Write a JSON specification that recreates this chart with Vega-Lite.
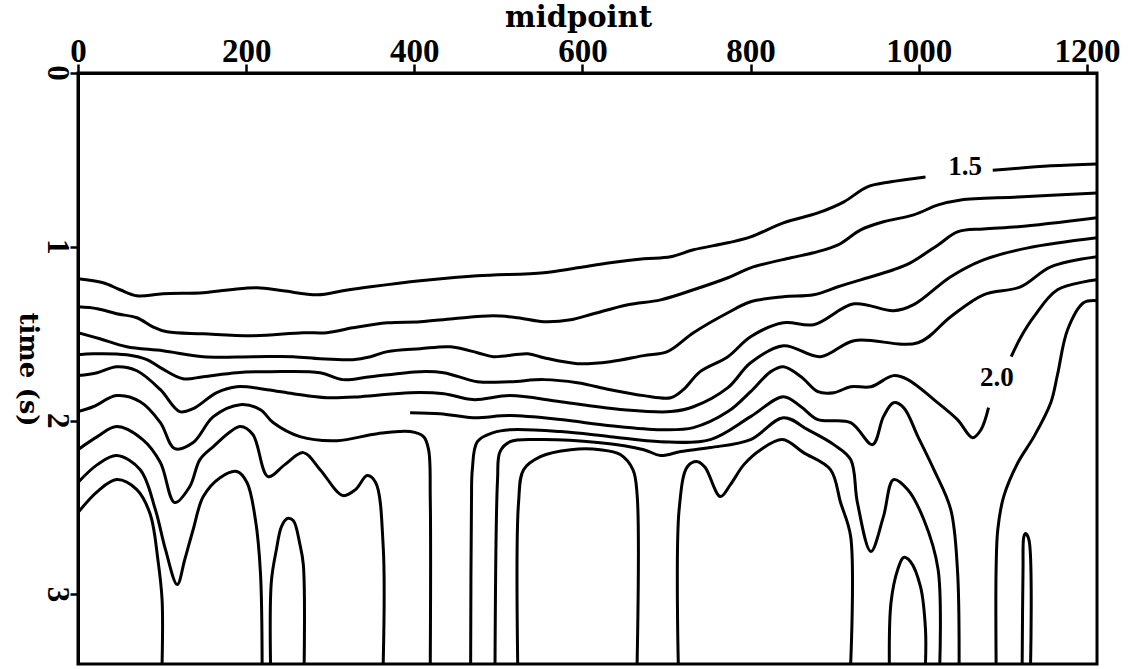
{
"$schema": "https://vega.github.io/schema/vega-lite/v6.json",
"width": 1019, "height": 591,
"autosize": {"type": "none"},
"padding": {"left": 78, "top": 73, "right": 31, "bottom": 5},
"background": "white",
"config": {"view": {"stroke": "black", "strokeWidth": 3}, "axis": {"grid": false, "domainColor": "black", "domainWidth": 3, "tickColor": "black", "tickWidth": 2.5, "labelColor": "black", "titleColor": "black"}},
"datasets": {
"labels": [{"label": "1.5", "m": 1055, "t": 0.54}, {"label": "2.0", "m": 1093, "t": 1.753}],
"ylabels": [{"lab": "0", "t": 0}, {"lab": "1", "t": 1}, {"lab": "2", "t": 2}, {"lab": "3", "t": 3}],
"lines": [
{"s":"A1","i":0,"m":0,"t":1.184},{"s":"A1","i":1,"m":30,"t":1.207},{"s":"A1","i":2,"m":50,"t":1.247},{"s":"A1","i":3,"m":70,"t":1.282},{"s":"A1","i":4,"m":101,"t":1.27},{"s":"A1","i":5,"m":149,"t":1.264},{"s":"A1","i":6,"m":181,"t":1.247},{"s":"A1","i":7,"m":213,"t":1.236},{"s":"A1","i":8,"m":244,"t":1.253},{"s":"A1","i":9,"m":285,"t":1.276},{"s":"A1","i":10,"m":315,"t":1.253},{"s":"A1","i":11,"m":348,"t":1.23},{"s":"A1","i":12,"m":407,"t":1.195},{"s":"A1","i":13,"m":475,"t":1.167},{"s":"A1","i":14,"m":554,"t":1.149},{"s":"A1","i":15,"m":594,"t":1.121},{"s":"A1","i":16,"m":633,"t":1.092},{"s":"A1","i":17,"m":673,"t":1.069},{"s":"A1","i":18,"m":705,"t":1.057},{"s":"A1","i":19,"m":732,"t":1.017},{"s":"A1","i":20,"m":773,"t":0.977},{"s":"A1","i":21,"m":800,"t":0.943},{"s":"A1","i":22,"m":839,"t":0.862},{"s":"A1","i":23,"m":880,"t":0.805},{"s":"A1","i":24,"m":911,"t":0.741},{"s":"A1","i":25,"m":939,"t":0.655},{"s":"A1","i":26,"m":967,"t":0.626},{"s":"A1","i":27,"m":1008,"t":0.598},
{"s":"A2","i":0,"m":1088,"t":0.56},{"s":"A2","i":1,"m":1157,"t":0.534},{"s":"A2","i":2,"m":1212,"t":0.523},
{"s":"B","i":0,"m":0,"t":1.345},{"s":"B","i":1,"m":23,"t":1.356},{"s":"B","i":2,"m":46,"t":1.385},{"s":"B","i":3,"m":70,"t":1.408},{"s":"B","i":4,"m":89,"t":1.46},{"s":"B","i":5,"m":106,"t":1.489},{"s":"B","i":6,"m":149,"t":1.5},{"s":"B","i":7,"m":208,"t":1.511},{"s":"B","i":8,"m":268,"t":1.494},{"s":"B","i":9,"m":296,"t":1.494},{"s":"B","i":10,"m":327,"t":1.466},{"s":"B","i":11,"m":368,"t":1.437},{"s":"B","i":12,"m":407,"t":1.431},{"s":"B","i":13,"m":446,"t":1.414},{"s":"B","i":14,"m":494,"t":1.397},{"s":"B","i":15,"m":523,"t":1.408},{"s":"B","i":16,"m":554,"t":1.431},{"s":"B","i":17,"m":586,"t":1.42},{"s":"B","i":18,"m":613,"t":1.385},{"s":"B","i":19,"m":654,"t":1.333},{"s":"B","i":20,"m":693,"t":1.305},{"s":"B","i":21,"m":732,"t":1.247},{"s":"B","i":22,"m":773,"t":1.178},{"s":"B","i":23,"m":800,"t":1.121},{"s":"B","i":24,"m":848,"t":1.063},{"s":"B","i":25,"m":875,"t":1.034},{"s":"B","i":26,"m":904,"t":0.989},{"s":"B","i":27,"m":931,"t":0.902},{"s":"B","i":28,"m":958,"t":0.856},{"s":"B","i":29,"m":994,"t":0.816},{"s":"B","i":30,"m":1023,"t":0.759},{"s":"B","i":31,"m":1050,"t":0.73},{"s":"B","i":32,"m":1118,"t":0.713},{"s":"B","i":33,"m":1212,"t":0.69},
{"s":"C","i":0,"m":0,"t":1.494},{"s":"C","i":1,"m":26,"t":1.529},{"s":"C","i":2,"m":58,"t":1.575},{"s":"C","i":3,"m":101,"t":1.598},{"s":"C","i":4,"m":149,"t":1.632},{"s":"C","i":5,"m":208,"t":1.632},{"s":"C","i":6,"m":256,"t":1.632},{"s":"C","i":7,"m":288,"t":1.644},{"s":"C","i":8,"m":327,"t":1.649},{"s":"C","i":9,"m":348,"t":1.632},{"s":"C","i":10,"m":368,"t":1.603},{"s":"C","i":11,"m":407,"t":1.586},{"s":"C","i":12,"m":443,"t":1.575},{"s":"C","i":13,"m":475,"t":1.609},{"s":"C","i":14,"m":494,"t":1.632},{"s":"C","i":15,"m":535,"t":1.615},{"s":"C","i":16,"m":554,"t":1.638},{"s":"C","i":17,"m":594,"t":1.672},{"s":"C","i":18,"m":633,"t":1.661},{"s":"C","i":19,"m":673,"t":1.626},{"s":"C","i":20,"m":701,"t":1.603},{"s":"C","i":21,"m":732,"t":1.494},{"s":"C","i":22,"m":773,"t":1.379},{"s":"C","i":23,"m":800,"t":1.316},{"s":"C","i":24,"m":839,"t":1.287},{"s":"C","i":25,"m":875,"t":1.276},{"s":"C","i":26,"m":904,"t":1.23},{"s":"C","i":27,"m":931,"t":1.19},{"s":"C","i":28,"m":970,"t":1.132},{"s":"C","i":29,"m":990,"t":1.092},{"s":"C","i":30,"m":1023,"t":0.989},{"s":"C","i":31,"m":1046,"t":0.914},{"s":"C","i":32,"m":1077,"t":0.897},{"s":"C","i":33,"m":1118,"t":0.885},{"s":"C","i":34,"m":1212,"t":0.833},
{"s":"D","i":0,"m":0,"t":1.621},{"s":"D","i":1,"m":18,"t":1.615},{"s":"D","i":2,"m":58,"t":1.621},{"s":"D","i":3,"m":82,"t":1.649},{"s":"D","i":4,"m":98,"t":1.695},{"s":"D","i":5,"m":125,"t":1.759},{"s":"D","i":6,"m":149,"t":1.747},{"s":"D","i":7,"m":189,"t":1.724},{"s":"D","i":8,"m":229,"t":1.718},{"s":"D","i":9,"m":288,"t":1.724},{"s":"D","i":10,"m":315,"t":1.764},{"s":"D","i":11,"m":348,"t":1.747},{"s":"D","i":12,"m":407,"t":1.718},{"s":"D","i":13,"m":435,"t":1.724},{"s":"D","i":14,"m":475,"t":1.776},{"s":"D","i":15,"m":514,"t":1.776},{"s":"D","i":16,"m":554,"t":1.764},{"s":"D","i":17,"m":594,"t":1.782},{"s":"D","i":18,"m":633,"t":1.822},{"s":"D","i":19,"m":673,"t":1.856},{"s":"D","i":20,"m":705,"t":1.868},{"s":"D","i":21,"m":720,"t":1.822},{"s":"D","i":22,"m":740,"t":1.718},{"s":"D","i":23,"m":773,"t":1.632},{"s":"D","i":24,"m":800,"t":1.517},{"s":"D","i":25,"m":839,"t":1.437},{"s":"D","i":26,"m":875,"t":1.448},{"s":"D","i":27,"m":923,"t":1.328},{"s":"D","i":28,"m":970,"t":1.368},{"s":"D","i":29,"m":994,"t":1.333},{"s":"D","i":30,"m":1038,"t":1.172},{"s":"D","i":31,"m":1077,"t":1.075},{"s":"D","i":32,"m":1130,"t":1.006},{"s":"D","i":33,"m":1212,"t":0.948},
{"s":"E","i":0,"m":0,"t":1.741},{"s":"E","i":1,"m":23,"t":1.724},{"s":"E","i":2,"m":46,"t":1.69},{"s":"E","i":3,"m":70,"t":1.713},{"s":"E","i":4,"m":98,"t":1.822},{"s":"E","i":5,"m":121,"t":1.948},{"s":"E","i":6,"m":137,"t":1.931},{"s":"E","i":7,"m":165,"t":1.839},{"s":"E","i":8,"m":189,"t":1.805},{"s":"E","i":9,"m":225,"t":1.822},{"s":"E","i":10,"m":256,"t":1.845},{"s":"E","i":11,"m":296,"t":1.868},{"s":"E","i":12,"m":336,"t":1.862},{"s":"E","i":13,"m":395,"t":1.839},{"s":"E","i":14,"m":435,"t":1.845},{"s":"E","i":15,"m":470,"t":1.879},{"s":"E","i":16,"m":514,"t":1.856},{"s":"E","i":17,"m":574,"t":1.891},{"s":"E","i":18,"m":649,"t":1.937},{"s":"E","i":19,"m":705,"t":1.948},{"s":"E","i":20,"m":732,"t":1.92},{"s":"E","i":21,"m":773,"t":1.81},{"s":"E","i":22,"m":800,"t":1.667},{"s":"E","i":23,"m":839,"t":1.569},{"s":"E","i":24,"m":883,"t":1.632},{"s":"E","i":25,"m":923,"t":1.54},{"s":"E","i":26,"m":999,"t":1.552},{"s":"E","i":27,"m":1038,"t":1.402},{"s":"E","i":28,"m":1077,"t":1.276},{"s":"E","i":29,"m":1121,"t":1.23},{"s":"E","i":30,"m":1157,"t":1.115},{"s":"E","i":31,"m":1212,"t":1.057},
{"s":"F","i":0,"m":0,"t":1.948},{"s":"F","i":1,"m":18,"t":1.92},{"s":"F","i":2,"m":46,"t":1.856},{"s":"F","i":3,"m":74,"t":1.891},{"s":"F","i":4,"m":98,"t":2.011},{"s":"F","i":5,"m":115,"t":2.161},{"s":"F","i":6,"m":137,"t":2.126},{"s":"F","i":7,"m":161,"t":1.977},{"s":"F","i":8,"m":193,"t":1.908},{"s":"F","i":9,"m":217,"t":1.937},{"s":"F","i":10,"m":232,"t":2.011},{"s":"F","i":11,"m":264,"t":2.092},{"s":"F","i":12,"m":308,"t":2.115},{"s":"F","i":13,"m":356,"t":2.075},{"s":"F","i":14,"m":395,"t":2.063},{"s":"F","i":15,"m":411,"t":2.092},{"s":"F","i":16,"m":417,"t":2.167},{"s":"F","i":17,"m":419,"t":2.454},{"s":"F","i":18,"m":419,"t":3.4},
{"s":"X1","i":0,"m":1212,"t":1.19},{"s":"X1","i":1,"m":1165,"t":1.247},{"s":"X1","i":2,"m":1137,"t":1.402},{"s":"X1","i":3,"m":1121,"t":1.523},{"s":"X1","i":4,"m":1110,"t":1.632},
{"s":"X2","i":0,"m":1083,"t":1.925},{"s":"X2","i":1,"m":1074,"t":2.052},{"s":"X2","i":2,"m":1064,"t":2.098},{"s":"X2","i":3,"m":1046,"t":1.994},{"s":"X2","i":4,"m":1018,"t":1.879},{"s":"X2","i":5,"m":987,"t":1.764},{"s":"X2","i":6,"m":970,"t":1.741},{"s":"X2","i":7,"m":943,"t":1.805},{"s":"X2","i":8,"m":919,"t":1.805},{"s":"X2","i":9,"m":899,"t":1.839},{"s":"X2","i":10,"m":880,"t":1.833},{"s":"X2","i":11,"m":860,"t":1.747},{"s":"X2","i":12,"m":839,"t":1.69},{"s":"X2","i":13,"m":824,"t":1.718},{"s":"X2","i":14,"m":800,"t":1.833},{"s":"X2","i":15,"m":773,"t":1.948},{"s":"X2","i":16,"m":732,"t":2.04},{"s":"X2","i":17,"m":693,"t":2.052},{"s":"X2","i":18,"m":633,"t":2.029},{"s":"X2","i":19,"m":574,"t":1.994},{"s":"X2","i":20,"m":514,"t":1.971},{"s":"X2","i":21,"m":470,"t":1.983},{"s":"X2","i":22,"m":431,"t":1.96},{"s":"X2","i":23,"m":395,"t":1.954},
{"s":"V470","i":0,"m":467,"t":3.4},{"s":"V470","i":1,"m":468,"t":2.471},{"s":"V470","i":2,"m":469,"t":2.282},{"s":"V470","i":3,"m":475,"t":2.121},{"s":"V470","i":4,"m":494,"t":2.069},{"s":"V470","i":5,"m":514,"t":2.052},{"s":"V470","i":6,"m":574,"t":2.063},{"s":"V470","i":7,"m":633,"t":2.092},{"s":"V470","i":8,"m":693,"t":2.121},{"s":"V470","i":9,"m":752,"t":2.109},{"s":"V470","i":10,"m":800,"t":1.977},{"s":"V470","i":11,"m":839,"t":1.862},{"s":"V470","i":12,"m":860,"t":1.92},{"s":"V470","i":13,"m":880,"t":1.994},{"s":"V470","i":14,"m":919,"t":2.011},{"s":"V470","i":15,"m":945,"t":2.138},{"s":"V470","i":16,"m":958,"t":1.977},{"s":"V470","i":17,"m":970,"t":1.897},{"s":"V470","i":18,"m":982,"t":1.925},{"s":"V470","i":19,"m":999,"t":2.092},{"s":"V470","i":20,"m":1018,"t":2.282},{"s":"V470","i":21,"m":1038,"t":2.511},{"s":"V470","i":22,"m":1046,"t":2.856},{"s":"V470","i":23,"m":1048,"t":3.4},
{"s":"V495","i":0,"m":496,"t":3.4},{"s":"V495","i":1,"m":499,"t":2.339},{"s":"V495","i":2,"m":502,"t":2.178},{"s":"V495","i":3,"m":514,"t":2.121},{"s":"V495","i":4,"m":550,"t":2.109},{"s":"V495","i":5,"m":618,"t":2.126},{"s":"V495","i":6,"m":673,"t":2.167},{"s":"V495","i":7,"m":693,"t":2.201},{"s":"V495","i":8,"m":717,"t":2.178},{"s":"V495","i":9,"m":752,"t":2.155},{"s":"V495","i":10,"m":800,"t":2.109},{"s":"V495","i":11,"m":839,"t":1.983},{"s":"V495","i":12,"m":868,"t":2.052},{"s":"V495","i":13,"m":899,"t":2.138},{"s":"V495","i":14,"m":919,"t":2.224},{"s":"V495","i":15,"m":927,"t":2.471},{"s":"V495","i":16,"m":943,"t":2.753},{"s":"V495","i":17,"m":958,"t":2.552},{"s":"V495","i":18,"m":970,"t":2.339},{"s":"V495","i":19,"m":987,"t":2.397},{"s":"V495","i":20,"m":1006,"t":2.569},{"s":"V495","i":21,"m":1023,"t":2.856},{"s":"V495","i":22,"m":1025,"t":3.4},
{"s":"AR1","i":0,"m":523,"t":3.4},{"s":"AR1","i":1,"m":524,"t":2.471},{"s":"AR1","i":2,"m":530,"t":2.282},{"s":"AR1","i":3,"m":550,"t":2.207},{"s":"AR1","i":4,"m":586,"t":2.167},{"s":"AR1","i":5,"m":621,"t":2.167},{"s":"AR1","i":6,"m":645,"t":2.195},{"s":"AR1","i":7,"m":660,"t":2.282},{"s":"AR1","i":8,"m":665,"t":2.425},{"s":"AR1","i":9,"m":665,"t":3.4},
{"s":"V678","i":0,"m":714,"t":3.4},{"s":"V678","i":1,"m":715,"t":2.511},{"s":"V678","i":2,"m":725,"t":2.264},{"s":"V678","i":3,"m":737,"t":2.236},{"s":"V678","i":4,"m":746,"t":2.27},{"s":"V678","i":5,"m":764,"t":2.437},{"s":"V678","i":6,"m":776,"t":2.368},{"s":"V678","i":7,"m":792,"t":2.253},{"s":"V678","i":8,"m":812,"t":2.167},{"s":"V678","i":9,"m":838,"t":2.109},{"s":"V678","i":10,"m":863,"t":2.184},{"s":"V678","i":11,"m":895,"t":2.282},{"s":"V678","i":12,"m":907,"t":2.471},{"s":"V678","i":13,"m":919,"t":2.667},{"s":"V678","i":14,"m":919,"t":3.4},
{"s":"L5","i":0,"m":965,"t":3.4},{"s":"L5","i":1,"m":967,"t":3.046},{"s":"L5","i":2,"m":975,"t":2.856},{"s":"L5","i":3,"m":982,"t":2.787},{"s":"L5","i":4,"m":990,"t":2.81},{"s":"L5","i":5,"m":1002,"t":2.954},{"s":"L5","i":6,"m":1008,"t":3.201},{"s":"L5","i":7,"m":1008,"t":3.4},
{"s":"L6","i":0,"m":1212,"t":1.31},{"s":"L6","i":1,"m":1196,"t":1.322},{"s":"L6","i":2,"m":1177,"t":1.477},{"s":"L6","i":3,"m":1165,"t":1.736},{"s":"L6","i":4,"m":1157,"t":1.897},{"s":"L6","i":5,"m":1137,"t":2.092},{"s":"L6","i":6,"m":1118,"t":2.241},{"s":"L6","i":7,"m":1101,"t":2.437},{"s":"L6","i":8,"m":1094,"t":2.626},{"s":"L6","i":9,"m":1092,"t":2.856},{"s":"L6","i":10,"m":1092,"t":3.4},
{"s":"L7","i":0,"m":1123,"t":3.4},{"s":"L7","i":1,"m":1124,"t":2.856},{"s":"L7","i":2,"m":1125,"t":2.667},{"s":"L7","i":3,"m":1127,"t":2.649},{"s":"L7","i":4,"m":1131,"t":2.684},{"s":"L7","i":5,"m":1133,"t":3.4},
{"s":"G","i":0,"m":0,"t":2.167},{"s":"G","i":1,"m":23,"t":2.092},{"s":"G","i":2,"m":46,"t":2.034},{"s":"G","i":3,"m":77,"t":2.109},{"s":"G","i":4,"m":98,"t":2.241},{"s":"G","i":5,"m":115,"t":2.471},{"s":"G","i":6,"m":133,"t":2.379},{"s":"G","i":7,"m":145,"t":2.224},{"s":"G","i":8,"m":161,"t":2.149},{"s":"G","i":9,"m":193,"t":2.034},{"s":"G","i":10,"m":208,"t":2.08},{"s":"G","i":11,"m":226,"t":2.322},{"s":"G","i":12,"m":246,"t":2.253},{"s":"G","i":13,"m":268,"t":2.184},{"s":"G","i":14,"m":288,"t":2.282},{"s":"G","i":15,"m":315,"t":2.431},{"s":"G","i":16,"m":330,"t":2.397},{"s":"G","i":17,"m":344,"t":2.316},{"s":"G","i":18,"m":354,"t":2.356},{"s":"G","i":19,"m":363,"t":2.724},{"s":"G","i":20,"m":363,"t":3.4},
{"s":"H","i":0,"m":0,"t":2.356},{"s":"H","i":1,"m":23,"t":2.253},{"s":"H","i":2,"m":46,"t":2.201},{"s":"H","i":3,"m":74,"t":2.282},{"s":"H","i":4,"m":92,"t":2.511},{"s":"H","i":5,"m":104,"t":2.741},{"s":"H","i":6,"m":118,"t":2.943},{"s":"H","i":7,"m":127,"t":2.799},{"s":"H","i":8,"m":137,"t":2.626},{"s":"H","i":9,"m":149,"t":2.437},{"s":"H","i":10,"m":169,"t":2.328},{"s":"H","i":11,"m":189,"t":2.293},{"s":"H","i":12,"m":201,"t":2.356},{"s":"H","i":13,"m":211,"t":2.569},{"s":"H","i":14,"m":217,"t":2.874},{"s":"H","i":15,"m":219,"t":3.4},
{"s":"I","i":0,"m":0,"t":2.529},{"s":"I","i":1,"m":23,"t":2.408},{"s":"I","i":2,"m":46,"t":2.339},{"s":"I","i":3,"m":70,"t":2.397},{"s":"I","i":4,"m":86,"t":2.54},{"s":"I","i":5,"m":95,"t":2.799},{"s":"I","i":6,"m":100,"t":3.029},{"s":"I","i":7,"m":100,"t":3.4},
{"s":"AR2","i":0,"m":229,"t":3.4},{"s":"AR2","i":1,"m":230,"t":2.925},{"s":"AR2","i":2,"m":236,"t":2.741},{"s":"AR2","i":3,"m":242,"t":2.609},{"s":"AR2","i":4,"m":249,"t":2.563},{"s":"AR2","i":5,"m":256,"t":2.575},{"s":"AR2","i":6,"m":264,"t":2.713},{"s":"AR2","i":7,"m":268,"t":2.828},{"s":"AR2","i":8,"m":269,"t":3.4}
]
},
"layer": [
{"data": {"name": "lines"},
 "mark": {"type": "line", "color": "black", "strokeWidth": 3, "interpolate": "catmull-rom", "clip": true},
 "encoding": {
  "x": {"field": "m", "type": "quantitative", "scale": {"domain": [0, 1212], "nice": false, "zero": false},
        "axis": {"orient": "top", "values": [0, 200, 400, 600, 800, 1000, 1200], "format": "d", "title": "midpoint", "titleFont": "DejaVu Serif", "titleFontSize": 29, "titleFontWeight": "bold", "titlePadding": 3, "titleX": 500, "titleAlign": "center", "labelFont": "Liberation Serif", "labelFontSize": 33, "labelFontWeight": "bold", "labelBaseline": "alphabetic", "labelPadding": 3, "tickSize": 9, "labelFlush": false, "labelOverlap": false}},
  "y": {"field": "t", "type": "quantitative", "scale": {"domain": [0, 3.4], "reverse": true, "nice": false, "zero": false},
        "axis": {"orient": "left", "values": [0, 1, 2, 3], "labels": false, "title": "time (s)", "titleFont": "DejaVu Serif", "titleFontSize": 26, "titleFontWeight": "bold", "titleAngle": 90, "titleAlign": "center", "titleBaseline": "top", "titleX": -38, "titleY": 296, "tickSize": 8}},
  "detail": {"field": "s", "type": "nominal"},
  "order": {"field": "i", "type": "quantitative"}
 }},
{"data": {"name": "labels"},
 "mark": {"type": "text", "font": "Liberation Serif", "fontWeight": "bold", "fontSize": 27, "color": "black", "align": "center", "baseline": "middle"},
 "encoding": {
  "x": {"field": "m", "type": "quantitative"},
  "y": {"field": "t", "type": "quantitative"},
  "text": {"field": "label", "type": "nominal"}
 }},
{"data": {"name": "ylabels"},
 "mark": {"type": "text", "font": "Liberation Serif", "fontWeight": "bold", "fontSize": 31, "color": "black", "align": "center", "baseline": "middle", "angle": 90},
 "encoding": {
  "x": {"datum": -25, "type": "quantitative"},
  "y": {"field": "t", "type": "quantitative"},
  "text": {"field": "lab", "type": "nominal"}
 }}
]
}
